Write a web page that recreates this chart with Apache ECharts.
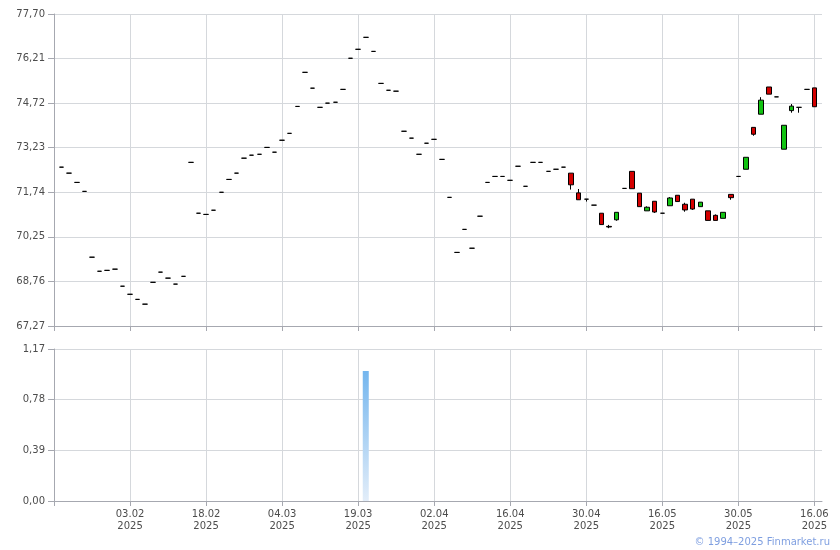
<!DOCTYPE html>
<html>
<head>
<meta charset="utf-8">
<script src="https://cdn.jsdelivr.net/npm/echarts@6/dist/echarts.min.js"></script>
<style>html,body{margin:0;padding:0;background:#fff}#c{width:840px;height:550px}</style>
</head>
<body>
<div id="c"></div>
<script>
// Trading-day categories (index 0 and 101 are empty padding slots)
const categories = [
 '20.01.2025','21.01.2025','22.01.2025','23.01.2025','24.01.2025','27.01.2025','28.01.2025','29.01.2025','30.01.2025','31.01.2025',
 '03.02.2025','04.02.2025','05.02.2025','06.02.2025','07.02.2025','10.02.2025','11.02.2025','12.02.2025','13.02.2025','14.02.2025',
 '18.02.2025','19.02.2025','20.02.2025','21.02.2025','24.02.2025','25.02.2025','26.02.2025','27.02.2025','28.02.2025','03.03.2025',
 '04.03.2025','05.03.2025','06.03.2025','07.03.2025','11.03.2025','12.03.2025','13.03.2025','14.03.2025','17.03.2025','18.03.2025',
 '19.03.2025','20.03.2025','21.03.2025','24.03.2025','25.03.2025','26.03.2025','27.03.2025','28.03.2025','31.03.2025','01.04.2025',
 '02.04.2025','03.04.2025','04.04.2025','07.04.2025','08.04.2025','09.04.2025','10.04.2025','11.04.2025','14.04.2025','15.04.2025',
 '16.04.2025','17.04.2025','18.04.2025','21.04.2025','22.04.2025','23.04.2025','24.04.2025','25.04.2025','28.04.2025','29.04.2025',
 '30.04.2025','02.05.2025','05.05.2025','06.05.2025','07.05.2025','08.05.2025','12.05.2025','13.05.2025','14.05.2025','15.05.2025',
 '16.05.2025','19.05.2025','20.05.2025','21.05.2025','22.05.2025','23.05.2025','26.05.2025','27.05.2025','28.05.2025','29.05.2025',
 '30.05.2025','02.06.2025','03.06.2025','04.06.2025','05.06.2025','06.06.2025','09.06.2025','10.06.2025','11.06.2025','13.06.2025',
 '16.06.2025','17.06.2025'
];
const openV = [null,
 72.58,72.38,72.07,71.77,69.57,69.10,69.13,69.17,68.60,68.33,
 68.16,68.00,68.73,69.07,68.87,68.67,68.93,72.74,71.04,71.00,
 71.14,71.74,72.17,72.38,72.88,72.98,73.01,73.24,73.08,73.48,
 73.71,74.61,75.75,75.22,74.58,74.72,74.75,75.18,76.22,76.52,
 76.92,76.45,75.38,75.15,75.12,73.78,73.55,73.01,73.38,73.51,
 72.84,71.57,69.73,70.50,69.87,70.94,72.07,72.27,72.27,72.14,
 72.61,71.94,72.74,72.74,72.44,72.51,72.58,72.38,71.72,71.51,
 71.31,71.04,70.60,70.82,71.87,72.44,71.71,71.12,71.44,71.04,
 71.29,71.64,71.34,71.51,71.26,71.12,70.97,70.87,71.67,72.27,
 72.51,73.91,74.35,75.26,74.93,73.18,74.47,74.58,75.18,75.23, null];
const closeV = [null,
 72.58,72.38,72.07,71.77,69.57,69.10,69.13,69.17,68.60,68.33,
 68.16,68.00,68.73,69.07,68.87,68.67,68.93,72.74,71.04,71.00,
 71.14,71.74,72.17,72.38,72.88,72.98,73.01,73.24,73.08,73.48,
 73.71,74.61,75.75,75.22,74.58,74.72,74.75,75.18,76.22,76.52,
 76.92,76.45,75.38,75.15,75.12,73.78,73.55,73.01,73.38,73.51,
 72.84,71.57,69.73,70.50,69.87,70.94,72.07,72.27,72.27,72.14,
 72.61,71.94,72.74,72.74,72.44,72.51,72.58,71.99,71.49,71.51,
 71.31,70.66,70.58,71.07,71.87,71.86,71.26,71.24,71.08,71.04,
 71.55,71.43,71.15,71.18,71.41,70.80,70.80,71.07,71.56,72.27,
 72.91,73.68,74.82,75.02,74.93,73.98,74.62,74.58,75.18,74.60, null];
const lowV = [null,
 72.58,72.38,72.07,71.77,69.57,69.10,69.13,69.17,68.60,68.33,
 68.16,68.00,68.73,69.07,68.87,68.67,68.93,72.74,71.04,71.00,
 71.14,71.74,72.17,72.38,72.88,72.98,73.01,73.24,73.08,73.48,
 73.71,74.61,75.75,75.22,74.58,74.72,74.75,75.18,76.22,76.52,
 76.92,76.45,75.38,75.15,75.12,73.78,73.55,73.01,73.38,73.51,
 72.84,71.57,69.73,70.50,69.87,70.94,72.07,72.27,72.27,72.14,
 72.61,71.94,72.74,72.74,72.44,72.51,72.58,71.83,71.49,71.43,
 71.31,70.66,70.54,70.79,71.87,71.86,71.26,71.12,71.05,71.04,
 71.29,71.43,71.09,71.15,71.26,70.80,70.80,70.87,71.49,72.27,
 72.51,73.63,74.35,75.02,74.93,73.18,74.40,74.40,75.18,74.60, null];
const highV = [null,
 72.58,72.38,72.07,71.77,69.57,69.10,69.13,69.17,68.60,68.33,
 68.16,68.00,68.73,69.07,68.87,68.67,68.93,72.74,71.04,71.00,
 71.14,71.74,72.17,72.38,72.88,72.98,73.01,73.24,73.08,73.48,
 73.71,74.61,75.75,75.22,74.58,74.72,74.75,75.18,76.22,76.52,
 76.92,76.45,75.38,75.15,75.12,73.78,73.55,73.01,73.38,73.51,
 72.84,71.57,69.73,70.50,69.87,70.94,72.07,72.27,72.27,72.14,
 72.61,71.94,72.74,72.74,72.44,72.51,72.58,72.38,71.85,71.51,
 71.31,71.04,70.65,71.07,71.87,72.44,71.71,71.27,71.44,71.04,
 71.58,71.64,71.39,71.51,71.41,71.12,71.00,71.07,71.67,72.27,
 72.91,73.91,74.92,75.26,74.93,73.98,74.69,74.58,75.18,75.23, null];
const volumeV = [null,
 0,0,0,0,0,0,0,0,0,0,
 0,0,0,0,0,0,0,0,0,0,
 0,0,0,0,0,0,0,0,0,0,
 0,0,0,0,0,0,0,0,0,0,
 1.00,0,0,0,0,0,0,0,0,0,
 0,0,0,0,0,0,0,0,0,0,
 0,0,0,0,0,0,0,0,0,0,
 0,0,0,0,0,0,0,0,0,0,
 0,0,0,0,0,0,0,0,0,0,
 0,0,0,0,0,0,0,0,0,0, null];
const priceTicks = [67.27, 68.76, 70.25, 71.74, 73.23, 74.72, 76.21, 77.70];
const volumeTicks = [0.00, 0.39, 0.78, 1.17];
const copyright = '© 1994–2025 Finmarket.ru';

const candleData = categories.map((c, i) => openV[i] == null ? '-' : [openV[i], closeV[i], lowV[i], highV[i]]);
const volData = categories.map((c, i) => volumeV[i] == null ? '-' : volumeV[i]);

const FONT = 'DejaVu Sans';
const labelColor = '#4d4d4d';
const gridColor = '#d5d8dc';
const axisColor = '#a6a8b0';
const showIdx = (i) => i > 0 && i % 10 === 0;
const fmt = (v) => v.toFixed(2).replace('.', ',');

const chart = echarts.init(document.getElementById('c'), null, {renderer: 'canvas'});
chart.setOption({
  animation: false,
  backgroundColor: '#fff',
  grid: [
    {left: 54, right: 18, top: 14, height: 312},
    {left: 54, right: 18, top: 349, height: 152}
  ],
  xAxis: [
    {type: 'category', gridIndex: 0, data: categories, boundaryGap: false,
     axisLine: {lineStyle: {color: axisColor}},
     axisTick: {show: true, interval: (i) => i === 0 || showIdx(i), length: 5, lineStyle: {color: axisColor}},
     axisLabel: {show: false},
     splitLine: {show: true, interval: (i) => showIdx(i), lineStyle: {color: gridColor}}},
    {type: 'category', gridIndex: 1, data: categories, boundaryGap: false,
     axisLine: {lineStyle: {color: axisColor}},
     axisTick: {show: true, interval: (i) => i === 0 || showIdx(i), length: 5, lineStyle: {color: axisColor}},
     axisLabel: {show: true, interval: (i) => showIdx(i), color: labelColor, fontFamily: FONT, fontSize: 10, lineHeight: 12, margin: 7,
       formatter: (v) => { const p = v.split('.'); return p[0] + '.' + p[1] + '\n' + p[2]; }},
     splitLine: {show: true, interval: (i) => showIdx(i), lineStyle: {color: gridColor}}}
  ],
  yAxis: [
    {type: 'value', gridIndex: 0, min: priceTicks[0], max: priceTicks[priceTicks.length - 1],
     interval: +(priceTicks[1] - priceTicks[0]).toFixed(2),
     axisLine: {show: true, lineStyle: {color: axisColor}},
     axisTick: {show: true, length: 6, lineStyle: {color: axisColor}},
     axisLabel: {color: labelColor, fontFamily: FONT, fontSize: 10, margin: 9, formatter: fmt},
     splitLine: {show: true, lineStyle: {color: gridColor}}},
    {type: 'value', gridIndex: 1, min: volumeTicks[0], max: volumeTicks[volumeTicks.length - 1],
     interval: volumeTicks[1] - volumeTicks[0],
     axisLine: {show: true, lineStyle: {color: axisColor}},
     axisTick: {show: true, length: 6, lineStyle: {color: axisColor}},
     axisLabel: {color: labelColor, fontFamily: FONT, fontSize: 10, margin: 9, formatter: fmt},
     splitLine: {show: true, lineStyle: {color: gridColor}}}
  ],
  series: [
    {type: 'candlestick', xAxisIndex: 0, yAxisIndex: 0, data: candleData, barWidth: 5,
     itemStyle: {color: '#12c312', color0: '#d40000', borderColor: '#000', borderColor0: '#000', borderColorDoji: '#000', borderWidth: 1}},
    {type: 'bar', xAxisIndex: 1, yAxisIndex: 1, data: volData, barWidth: 6,
     itemStyle: {color: new echarts.graphic.LinearGradient(0, 0, 0, 1, [
       {offset: 0, color: '#74b6ee'}, {offset: 1, color: '#e2edf9'}])}}
  ],
  graphic: [
    {type: 'text', right: 10, top: 537, style: {text: copyright, fill: '#7f9fe0', font: '10px ' + FONT}}
  ]
});
</script>
</body>
</html>
